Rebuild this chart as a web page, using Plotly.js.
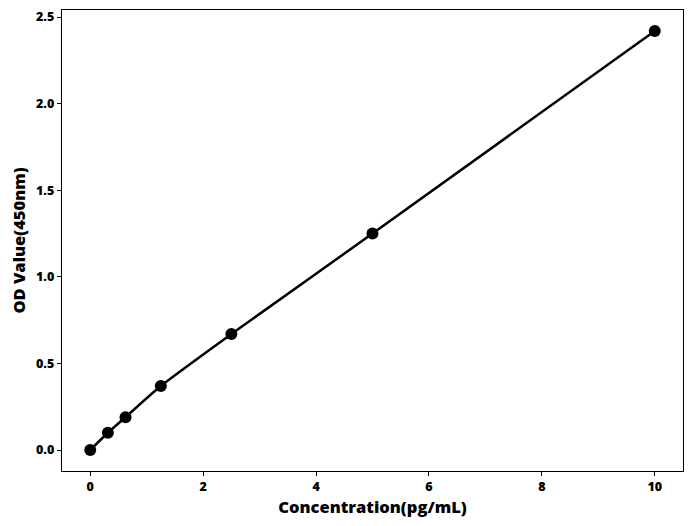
<!DOCTYPE html>
<html>
<head>
<meta charset="utf-8">
<script src="https://cdn.plot.ly/plotly-3.0.1.min.js"></script>
<style>html,body{margin:0;padding:0;background:#fff;}#chart{width:692px;height:526px;}</style>
</head>
<body>
<div id="chart"></div>
<script>
const concentration = [0, 0.3125, 0.625, 1.25, 2.5, 5, 10];
const odValue = [0, 0.10, 0.19, 0.37, 0.67, 1.25, 2.42];
const xTitle = "Concentration(pg/mL)";
const yTitle = "OD Value(450nm)";

const fam = "Open Sans, sans-serif";

const trace = {
  x: concentration,
  y: odValue,
  mode: "lines+markers",
  type: "scatter",
  line: {color: "#000", width: 2.5, shape: "spline", smoothing: 0.6},
  marker: {color: "#000", size: 12},
  hoverinfo: "skip"
};

const axisBase = {
  showline: true, mirror: true, linecolor: "#000", linewidth: 1.2,
  ticks: "outside", ticklen: 4, tickwidth: 1, tickcolor: "#000",
  showgrid: false, zeroline: false,
  tickfont: {family: fam, size: 12.5, color: "#000", weight: 800}
};

const layout = {
  width: 692, height: 526,
  margin: {l: 62, r: 9, t: 10, b: 55},
  paper_bgcolor: "#fff", plot_bgcolor: "#fff",
  font: {family: fam, size: 12, color: "#000"},
  showlegend: false,
  xaxis: Object.assign({}, axisBase, {
    range: [-0.5, 10.5], dtick: 2, tick0: 0,
    title: {text: xTitle, font: {family: fam, size: 16.5, color: "#000", weight: 800}, standoff: 5}
  }),
  yaxis: Object.assign({}, axisBase, {
    range: [-0.121, 2.541], dtick: 0.5, tick0: 0, tickformat: ".1f",
    title: {text: yTitle, font: {family: fam, size: 16.5, color: "#000", weight: 800}, standoff: 6}
  })
};

Plotly.newPlot("chart", [trace], layout, {staticPlot: true, displayModeBar: false});
</script>
</body>
</html>
